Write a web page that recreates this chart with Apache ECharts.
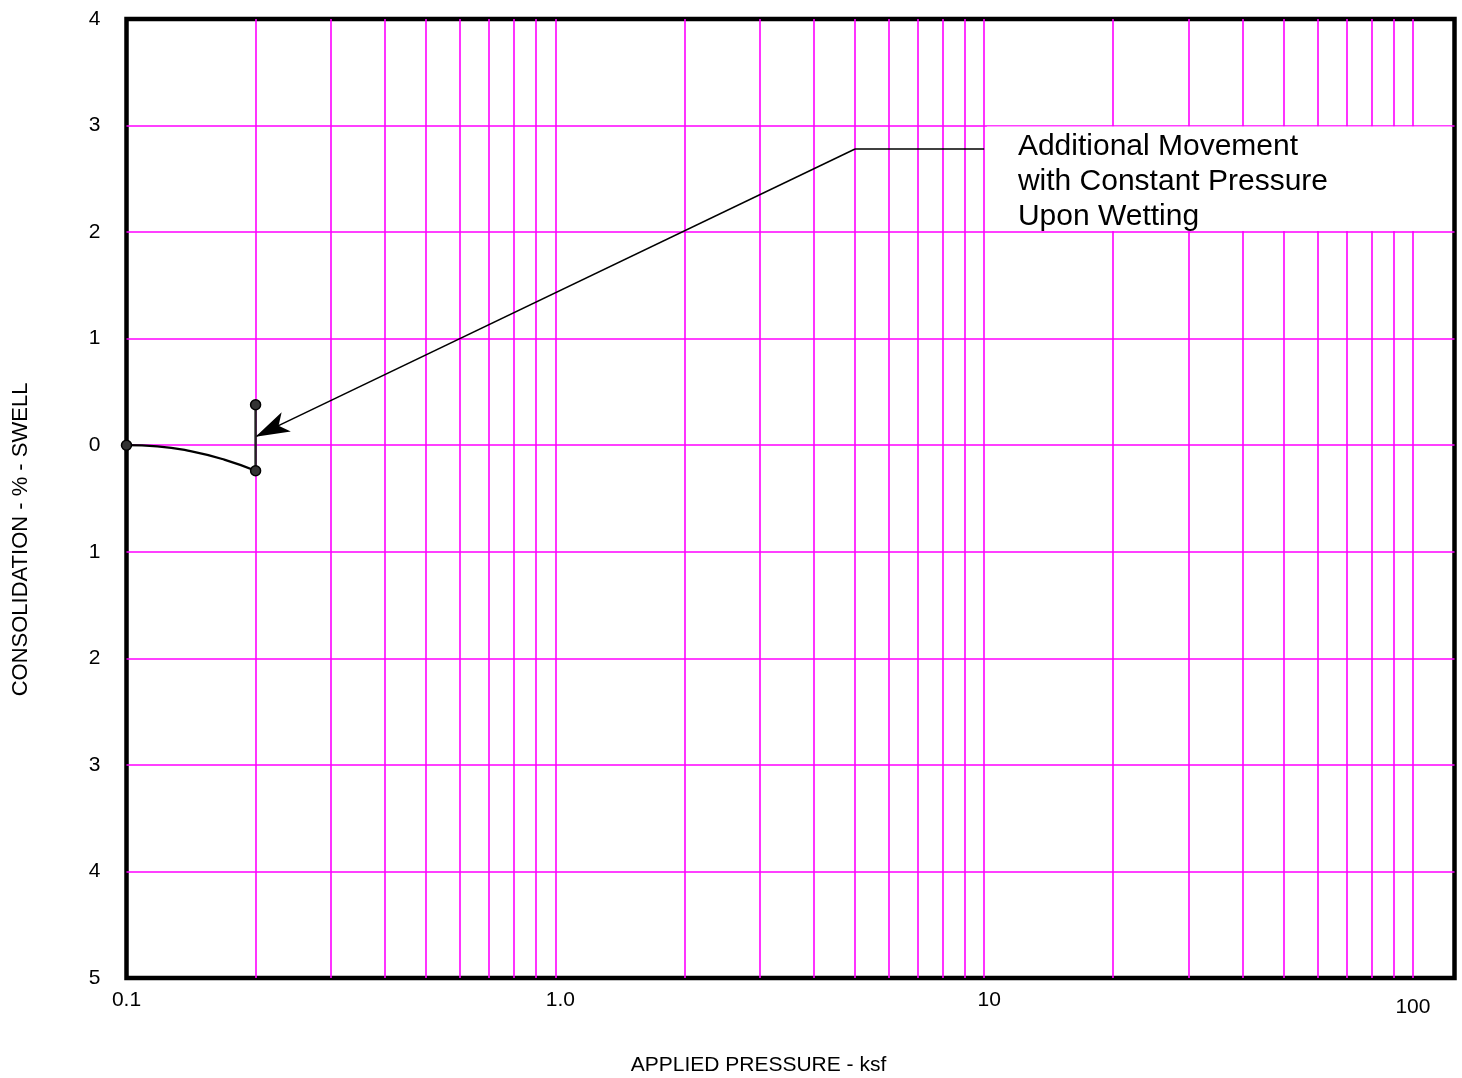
<!DOCTYPE html>
<html>
<head>
<meta charset="utf-8">
<script src="https://cdn.jsdelivr.net/npm/echarts@6/dist/echarts.min.js"></script>
<style>
html,body{margin:0;padding:0;background:#fff;}
#chart{width:1462px;height:1078px;}
</style>
</head>
<body>
<div id="chart"></div>
<script>
// ---- data ----
var xTickLabels = ['0.1', '1.0', '10', '100'];
var xGridValues = [0.2,0.3,0.4,0.5,0.6,0.7,0.8,0.9,1,2,3,4,5,6,7,8,9,10,20,30,40,50,60,70,80,90,100];
var curvePoints = [[0.1, 0], [0.118, -0.01], [0.141, -0.055], [0.169, -0.135], [0.2, -0.24]];
var wettingLine = [[0.2, -0.24], [0.2, 0.38]];
var measuredPoints = [[0.1, 0], [0.2, -0.24], [0.2, 0.38]];
var annotationStart = [10, 2.78];
var annotationElbow = [5, 2.78];
var annotationTip = [0.2, 0.08];
var noteText = 'Additional Movement\nwith Constant Pressure\nUpon Wetting';
var noteBox = [[10.15, 2.99], [123, 2.01]];

var FONT = '"Liberation Sans", Arial, Helvetica, sans-serif';
var chart = echarts.init(document.getElementById('chart'));

chart.setOption({
  backgroundColor: '#fff',
  animation: false,
  grid: {
    left: 126.5, right: 7.5, top: 19, bottom: 100,
    outerBoundsMode: 'none', containLabel: false,
    show: true, borderColor: '#000', borderWidth: 4.5, backgroundColor: 'transparent'
  },
  xAxis: {
    type: 'log', logBase: 10, min: 0.1, max: 125,
    name: 'APPLIED PRESSURE - ksf', nameLocation: 'middle', nameGap: 77,
    nameTextStyle: { fontSize: 21, color: '#000', fontFamily: FONT, padding: [0, 64, 0, 0] },
    axisLine: { show: false }, axisTick: { show: false },
    splitLine: { show: false },
    axisLabel: {
      margin: 12, color: '#000', fontSize: 21, fontFamily: FONT, showMaxLabel: false,
      formatter: function (v) {
        var l = Math.log10(v);
        if (Math.abs(l - Math.round(l)) > 1e-6) return '';
        var i = Math.round(l) + 1;
        var t = xTickLabels[i];
        if (t === undefined) return '';
        if (i === 3) return '{c|' + t + '}';
        if (i === 1 || i === 2) return '{b|' + t + '}';
        return t;
      },
      rich: {
        b: { fontSize: 21, fontFamily: FONT, color: '#000', padding: [0, 0, 0, 10] },
        c: { fontSize: 21, fontFamily: FONT, color: '#000', padding: [7, 0, 0, 0] }
      }
    }
  },
  yAxis: {
    type: 'value', min: -5, max: 4, interval: 1,
    name: 'CONSOLIDATION - % - SWELL', nameLocation: 'middle', nameGap: 95, nameRotate: 90,
    nameTextStyle: { fontSize: 22, color: '#000', fontFamily: FONT, padding: [0, 82, 0, 0] },
    axisLine: { show: false }, axisTick: { show: false },
    splitLine: { show: true, showMinLine: false, showMaxLine: false, lineStyle: { color: '#ff00ff', width: 1.6 } },
    axisLabel: {
      margin: 26, color: '#000', fontSize: 21, fontFamily: FONT,
      formatter: function (v) { return String(Math.abs(v)); }
    }
  },
  series: [
    {
      type: 'line', data: [], z: 1, silent: true,
      markLine: {
        silent: true, symbol: 'none', animation: false,
        label: { show: false },
        lineStyle: { color: '#ff00ff', width: 1.6, type: 'solid' },
        data: xGridValues.map(function (v) { return { xAxis: v }; })
      }
    },
    {
      type: 'line', data: [], z: 4, silent: true,
      markLine: {
        silent: true, animation: false,
        label: { show: false },
        lineStyle: { color: '#000', width: 1.5, type: 'solid' },
        data: [
          [{ coord: annotationStart, symbol: 'none' }, { coord: annotationElbow, symbol: 'none' }],
          [{ coord: annotationElbow, symbol: 'none' },
           { coord: annotationTip, symbol: 'arrow', symbolSize: [16, 34] }]
        ]
      }
    },
    {
      type: 'line', data: curvePoints, smooth: true, showSymbol: false, z: 5,
      lineStyle: { color: '#000', width: 2.2 }
    },
    {
      type: 'line', data: wettingLine, showSymbol: false, z: 5,
      lineStyle: { color: '#222', width: 2.5 }
    },
    {
      type: 'scatter', data: measuredPoints, symbol: 'circle', symbolSize: 10, z: 6,
      itemStyle: { color: '#333', borderColor: '#000', borderWidth: 1.5, opacity: 1 }
    }
  ]
});

// white note box and note text, positioned from data coordinates
var p0 = chart.convertToPixel({ gridIndex: 0 }, noteBox[0]);
var p1 = chart.convertToPixel({ gridIndex: 0 }, noteBox[1]);
chart.setOption({
  graphic: [
    {
      type: 'rect', z: 50, silent: true,
      shape: { x: p0[0], y: p0[1], width: p1[0] - p0[0], height: p1[1] - p0[1] },
      style: { fill: '#fff' }
    },
    {
      type: 'text', z: 51, silent: true,
      x: p0[0] + 31, y: p0[1] + 3,
      style: {
        text: noteText, fill: '#000', fontSize: 30, lineHeight: 35,
        fontFamily: FONT, align: 'left', verticalAlign: 'top'
      }
    }
  ]
});
</script>
</body>
</html>
